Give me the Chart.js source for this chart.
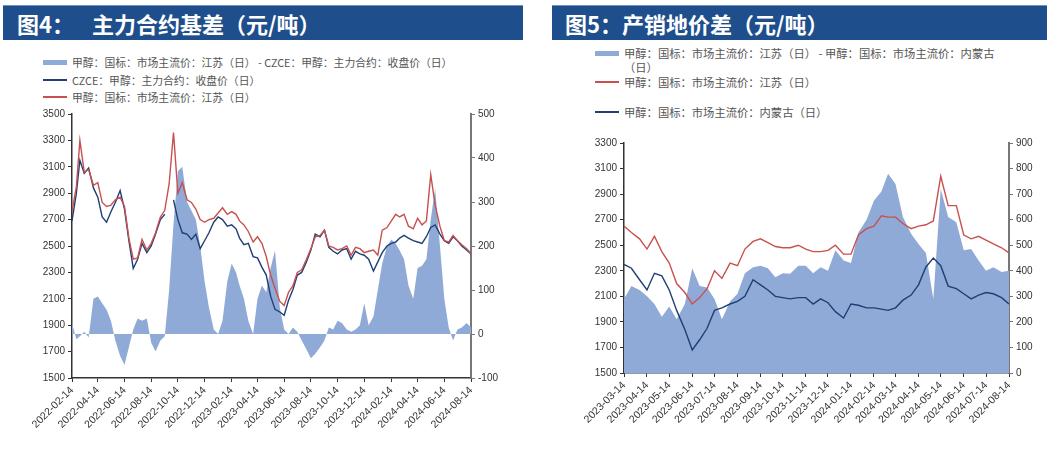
<!DOCTYPE html>
<html>
<head>
<meta charset="utf-8">
<script src="https://cdn.jsdelivr.net/npm/chart.js@4.4.1/dist/chart.umd.min.js"></script>
<style>
body { margin: 0; width: 1053px; height: 450px; position: relative; background: #fff; overflow: hidden; font-family: "Noto Sans CJK SC", sans-serif; }
.bar { position: absolute; top: 5px; height: 35px; background: #1f4e8c; border-top: 1px solid #6f8fbf; color: #fff; font-weight: bold; font-size: 22px; line-height: 35px; white-space: nowrap; box-sizing: border-box; }
.leg { position: absolute; color: #555; white-space: nowrap; line-height: 14px; display: flex; align-items: flex-start; }
.sw { display: inline-block; width: 24px; margin-right: 5px; margin-top: 6px; flex: none; }
canvas { position: absolute; }
</style>
</head>
<body>
<div class="bar" style="left:3px;width:520px;padding-left:14px">图4：<span style="margin-left:18px">主力合约基差（元/吨）</span></div>
<div class="bar" style="left:552px;width:495px;padding-left:13px">图5：产销地价差（元/吨）</div>
<div id="leg1"></div>
<div id="leg2"></div>
<canvas id="c1" width="530" height="350" style="left:0;top:100px"></canvas>
<canvas id="c2" width="513" height="325" style="left:540px;top:125px"></canvas>
<script>
// 颜色
const AREA = '#8faad6';
const RED = '#c8504e';
const NAVY = '#1f3f75';

// 图4 数据（每月4、14、24日取点）
const basisLabels = [
    '甲醇：国标：市场主流价：江苏（日） - CZCE：甲醇：主力合约：收盘价（日）',
    'CZCE：甲醇：主力合约：收盘价（日）',
    '甲醇：国标：市场主流价：江苏（日）'
];
const basisTicks = ['2022-02-14', '2022-04-14', '2022-06-14', '2022-08-14', '2022-10-14', '2022-12-14',
    '2023-02-14', '2023-04-14', '2023-06-14', '2023-08-14', '2023-10-14', '2023-12-14',
    '2024-02-14', '2024-04-14', '2024-06-14', '2024-08-14'];
const basisSpread = [
    24, -12, -5, 5, -8, 80, 85, 70, 55, 30,
    -15, -50, -70, -30, 10, 35, 30, 35, -20, -40,
    -15, -5, 100, 250, 370, 380, 300, 280, 260, 200,
    120, 60, 10, 0, 30, 120, 160, 140, 110, 80,
    30, 0, 80, 110, 95, 150, 190, 60, 10, 0,
    15, 5, -15, -35, -55, -45, -30, -15, 15, 10,
    30, 25, 10, 5, 10, 20, 70, 20, 40, 100,
    160, 200, 215, 205, 190, 170, 110, 80, 150, 155,
    170, 260, 330, 200, 80, 15, -15, 10, 15, 25,
    15
];
const czceClose = [
    2690, 2900, 3150, 3050, 3090, 2940, 2870, 2720, 2680, 2760,
    2830, 2920, 2780, 2540, 2330, 2400, 2520, 2450, 2500, 2590,
    2700, 2740, null, 2850, 2700, 2600, 2590, 2550, 2590, 2480,
    2540, 2600, 2680, 2720, 2700, 2650, 2660, 2630, 2560, 2510,
    2520, 2420, 2410, 2340, 2280, 2120, 2020, 2000, 1975, 2090,
    2170, 2280, 2300, 2380, 2470, 2590, 2570, 2620, 2490, 2460,
    2440, 2470, 2480, 2400, 2460, 2440, 2430, 2400, 2310, 2380,
    2450, 2500, 2520, 2530, 2560, 2580, 2560, 2540, 2530, 2520,
    2570, 2640, 2660, 2590, 2540, 2520, 2570, 2540, 2500, 2470,
    2440
];
const jiangsuSpot = [
    2760, 2950, 3300, 3060, 3080, 2960, 2980, 2830, 2800, 2810,
    2850, 2870, 2800, 2560, 2400, 2410, 2550, 2470, 2520, 2600,
    2720, 2770, 2970, 3360, 2900, 2980, 2850, 2830, 2780, 2700,
    2680, 2700, 2710, 2750, 2790, 2740, 2760, 2740, 2690, 2660,
    2610, 2530, 2570, 2520, 2420, 2280, 2180, 2080, 2050, 2150,
    2200, 2300, 2320, 2400, 2480, 2570, 2580, 2620, 2500, 2490,
    2470, 2480, 2500, 2430, 2490, 2480, 2450, 2460, 2470, 2430,
    2620, 2640, 2690, 2740, 2720, 2740, 2650, 2630, 2710, 2660,
    2690, 3040, 2810, 2650, 2540, 2530, 2580, 2540, 2510, 2480,
    2440
];

// 图5 数据
const regionLabels = [
    '甲醇：国标：市场主流价：江苏（日） - 甲醇：国标：市场主流价：内蒙古（日）',
    '甲醇：国标：市场主流价：江苏（日）',
    '甲醇：国标：市场主流价：内蒙古（日）'
];
const regionTicks = ['2023-03-14', '2023-04-14', '2023-05-14', '2023-06-14', '2023-07-14', '2023-08-14',
    '2023-09-14', '2023-10-14', '2023-11-14', '2023-12-14', '2024-01-14', '2024-02-14',
    '2024-03-14', '2024-04-14', '2024-05-14', '2024-06-14', '2024-07-14', '2024-08-14'];
const regionSpread = [
    290, 340, 325, 300, 270, 220, 260, 210, 270, 410,
    340, 335, 290, 210, 280, 310, 390, 414, 420, 410,
    375, 390, 388, 420, 420, 390, 414, 400, 480, 440,
    430, 550, 600, 675, 710, 780, 740, 610, 545, 505,
    470, 290, 720, 610, 590, 480, 485, 440, 400, 414,
    395, 400
];
const jiangsuSpot2 = [
    2650, 2600, 2550, 2470, 2570, 2450, 2360, 2200, 2130, 2040,
    2090, 2160, 2300, 2240, 2360, 2340, 2470, 2530, 2550, 2520,
    2490, 2480, 2480, 2500, 2470, 2450, 2450, 2460, 2500, 2430,
    2430, 2580, 2630, 2650, 2730, 2720, 2720, 2670, 2630, 2650,
    2660, 2690, 3040, 2810, 2810, 2580, 2550, 2570, 2540, 2510,
    2480, 2440
];
const innerMongoliaSpot = [
    2350, 2320, 2230, 2150, 2280, 2260, 2150, 1990, 1840, 1680,
    1760, 1850, 1990, 2010, 2040, 2060, 2100, 2230, 2190, 2150,
    2100, 2090, 2080, 2090, 2090, 2040, 2080, 2050, 1980, 1930,
    2040, 2030, 2010, 2010, 2000, 1990, 2010, 2070, 2110, 2190,
    2330, 2400, 2340, 2180, 2160, 2120, 2080, 2110, 2130, 2120,
    2090, 2040
];

// 日期：每月4、14、24日
function makeDates(start, n) {
    let [y, m, d] = start.split('-').map(Number);
    const out = [];
    for (let i = 0; i < n; i++) {
        out.push(y + '-' + String(m).padStart(2, '0') + '-' + String(d).padStart(2, '0'));
        if (d === 14) d = 24;
        else if (d === 24) { d = 4; m++; if (m > 12) { m = 1; y++; } }
        else d = 14;
    }
    return out;
}
const basisDates = makeDates('2022-02-14', jiangsuSpot.length);
const regionDates = makeDates('2023-03-14', jiangsuSpot2.length);

function pts(dates, vals) {
    return dates.map((d, i) => ({ x: Date.parse(d), y: vals[i] }));
}

function buildLegend(id, left, top, labels, colors, gaps, fontSize) {
    const box = document.getElementById(id);
    let y = top;
    labels.forEach((text, i) => {
        const row = document.createElement('div');
        row.className = 'leg';
        row.style.left = left + 'px';
        row.style.top = y + 'px';
        row.style.fontSize = fontSize + 'px';
        const h = i === 0 ? 5 : 1.5;
        const sw = document.createElement('span');
        sw.className = 'sw';
        sw.style.height = h + 'px';
        sw.style.background = colors[i];
        sw.style.marginTop = (7 - h / 2) + 'px';
        const tx = document.createElement('span');
        if (id === 'leg2' && i === 0) {
            tx.innerHTML = text.replace(/（日）$/, '') + '<br>（日）';
        } else {
            tx.textContent = text;
        }
        row.appendChild(sw);
        row.appendChild(tx);
        box.appendChild(row);
        y += gaps[i];
    });
}
buildLegend('leg1', 43, 55, basisLabels, [AREA, NAVY, RED], [18, 17, 0], 10.8);
buildLegend('leg2', 595, 46, regionLabels, [AREA, RED, NAVY], [29, 30, 0], 11.3);

const tickFont = { family: '"Liberation Sans", Arial, sans-serif', size: 10 };

function createChart(canvasId, cfg) {
    const tickVals = cfg.ticks.map(t => Date.parse(t));
    const ctx = document.getElementById(canvasId).getContext('2d');
    return new Chart(ctx, {
        type: 'line',
        data: {
            datasets: [
                {
                    label: cfg.labels[2],
                    data: pts(cfg.dates, cfg.third),
                    borderColor: cfg.thirdColor,
                    borderWidth: 1.4,
                    pointRadius: 0,
                    fill: false,
                    spanGaps: false,
                    yAxisID: 'y',
                    order: 0
                },
                {
                    label: cfg.labels[1],
                    data: pts(cfg.dates, cfg.second),
                    borderColor: cfg.secondColor,
                    borderWidth: 1.4,
                    pointRadius: 0,
                    fill: false,
                    spanGaps: false,
                    yAxisID: 'y',
                    order: 1
                },
                {
                    label: cfg.labels[0],
                    data: pts(cfg.dates, cfg.area),
                    borderWidth: 0,
                    borderColor: AREA,
                    backgroundColor: AREA,
                    pointRadius: 0,
                    fill: 'origin',
                    yAxisID: 'y1',
                    order: 2
                }
            ]
        },
        options: {
            responsive: false,
            animation: false,
            devicePixelRatio: 1,
            layout: { padding: { top: cfg.padTop, left: 0, right: 0, bottom: 0 } },
            plugins: { legend: { display: false }, tooltip: { enabled: false } },
            scales: {
                x: {
                    type: 'linear',
                    min: tickVals[0],
                    max: tickVals[tickVals.length - 1],
                    afterBuildTicks: axis => { axis.ticks = tickVals.map(v => ({ value: v })); },
                    afterFit: axis => { axis.height = cfg.xHeight; },
                    ticks: {
                        callback: (v) => cfg.ticks[tickVals.indexOf(v)],
                        minRotation: 45,
                        maxRotation: 45,
                        autoSkip: false,
                        padding: 2,
                        color: '#333',
                        font: { family: tickFont.family, size: 10.5 }
                    },
                    grid: { drawOnChartArea: false, drawTicks: true, tickLength: 4, tickColor: '#333' },
                    border: { display: true, color: '#333', width: 1.5 }
                },
                y: {
                    position: 'left',
                    min: cfg.yMin,
                    max: cfg.yMax,
                    afterFit: axis => { axis.width = cfg.yWidth; },
                    ticks: { stepSize: 200, color: '#333', font: tickFont, padding: 3, callback: v => String(v) },
                    grid: { drawOnChartArea: false, drawTicks: true, tickLength: 4, tickColor: '#333' },
                    border: { display: true, color: '#333', width: 1.5 }
                },
                y1: {
                    position: 'right',
                    min: cfg.y1Min,
                    max: cfg.y1Max,
                    afterFit: axis => { axis.width = cfg.y1Width; },
                    ticks: { stepSize: 100, color: '#333', font: tickFont, padding: 3, callback: v => String(v) },
                    grid: { drawOnChartArea: false, drawTicks: true, tickLength: 4, tickColor: '#777' },
                    border: { display: true, color: '#777', width: 2 }
                }
            }
        }
    });
}

createChart('c1', {
    labels: basisLabels, ticks: basisTicks, dates: basisDates,
    area: basisSpread, second: czceClose, third: jiangsuSpot,
    secondColor: NAVY, thirdColor: RED,
    yMin: 1500, yMax: 3500, y1Min: -100, y1Max: 500,
    padTop: 14, xHeight: 72, yWidth: 72, y1Width: 59
});

createChart('c2', {
    labels: regionLabels, ticks: regionTicks, dates: regionDates,
    area: regionSpread, second: jiangsuSpot2, third: innerMongoliaSpot,
    secondColor: RED, thirdColor: NAVY,
    yMin: 1500, yMax: 3300, y1Min: 0, y1Max: 900,
    padTop: 18, xHeight: 77, yWidth: 84, y1Width: 44
});
</script>
</body>
</html>
